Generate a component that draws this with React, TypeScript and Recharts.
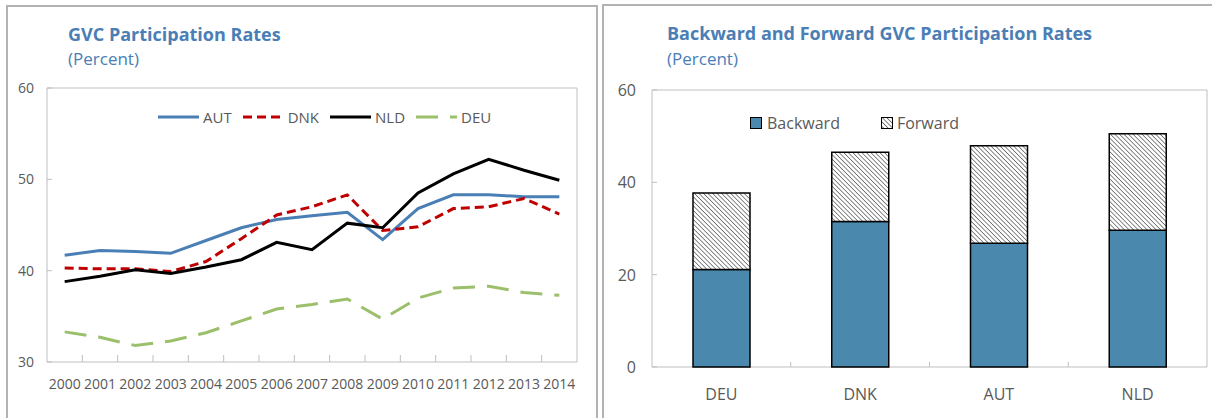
import React from "react"
import { LineChart, Line, BarChart, Bar, XAxis, YAxis, Legend, ReferenceArea } from "recharts"

// GVC participation, percent
const years = ["2000", "2001", "2002", "2003", "2004", "2005", "2006", "2007", "2008", "2009", "2010", "2011", "2012", "2013", "2014"]
const aut = [41.7, 42.2, 42.1, 41.9, 43.3, 44.7, 45.6, 46.0, 46.4, 43.4, 46.8, 48.3, 48.3, 48.1, 48.1]
const dnk = [40.3, 40.2, 40.2, 39.9, 41.0, 43.5, 46.1, 47.0, 48.3, 44.4, 44.8, 46.8, 47.0, 47.9, 46.2]
const nld = [38.8, 39.4, 40.1, 39.7, 40.4, 41.2, 43.1, 42.3, 45.2, 44.7, 48.5, 50.6, 52.2, 51.0, 49.9]
const deu = [33.3, 32.7, 31.8, 32.3, 33.2, 34.5, 35.8, 36.3, 36.9, 34.7, 37.0, 38.1, 38.3, 37.6, 37.3]
const lineTicks = [30, 40, 50, 60]

// backward / forward split, percent
const countries = ["DEU", "DNK", "AUT", "NLD"]
const backward = [21.1, 31.5, 26.8, 29.6]
const forward = [16.6, 15.0, 21.1, 20.9]
const barTicks = [0, 20, 40, 60]

const lineData = years.map((y, i) => ({ year: y, AUT: aut[i], DNK: dnk[i], NLD: nld[i], DEU: deu[i] }))
const barData = countries.map((c, i) => ({ country: c, backward: backward[i], forward: forward[i] }))

const series = [
  { key: "AUT", color: "#4a7fb5", dash: undefined as string | undefined },
  { key: "DNK", color: "#c00000", dash: "9 5" },
  { key: "NLD", color: "#000000", dash: undefined },
  { key: "DEU", color: "#9bbf6b", dash: "22 12" },
]

const FONT = "'Open Sans', 'Noto Sans', sans-serif"
const GRAY = "#595959"
const AXIS = "#bfbfbf"
const TITLE = "#4a7eb5"
const BLUE = "#4b88ae"

// plot-area geometry (used for the inside tick marks)
const L_LEFT = 47, L_RIGHT = 577, L_BOTTOM = 362
const B_LEFT = 52, B_RIGHT = 607, B_BOTTOM = 367

function YearTick(props: any) {
  const { x, payload, index } = props
  const bw = (L_RIGHT - L_LEFT) / years.length
  return (
    <g>
      {index > 0 && <line x1={x - bw / 2} x2={x - bw / 2} y1={L_BOTTOM} y2={L_BOTTOM - 7} stroke={AXIS} />}
      <text x={x} y={L_BOTTOM + 27} textAnchor="middle" fill={GRAY} fontSize={14} fontFamily={FONT}>{payload.value}</text>
    </g>
  )
}

function LineYTick(props: any) {
  const { y, payload } = props
  return (
    <g>
      <line x1={L_LEFT} x2={L_LEFT + 5} y1={y} y2={y} stroke={AXIS} />
      <text x={34} y={y + 5} textAnchor="end" fill={GRAY} fontSize={14} fontFamily={FONT}>{payload.value}</text>
    </g>
  )
}

function CountryTick(props: any) {
  const { x, payload, index } = props
  const bw = (B_RIGHT - B_LEFT) / countries.length
  return (
    <g>
      {index > 0 && <line x1={x - bw / 2} x2={x - bw / 2} y1={B_BOTTOM} y2={B_BOTTOM - 5} stroke={AXIS} />}
      <text x={x} y={B_BOTTOM + 33} textAnchor="middle" fill={GRAY} fontSize={16} fontFamily={FONT}>{payload.value}</text>
    </g>
  )
}

function BarYTick(props: any) {
  const { y, payload } = props
  return (
    <g>
      <line x1={B_LEFT} x2={B_LEFT + 5} y1={y} y2={y} stroke={AXIS} />
      <text x={36} y={y + 6} textAnchor="end" fill={GRAY} fontSize={16} fontFamily={FONT}>{payload.value}</text>
    </g>
  )
}

function LineLegend() {
  return (
    <div style={{ display: "flex", alignItems: "center", fontSize: 15, color: GRAY, fontFamily: FONT, lineHeight: "20px" }}>
      {series.map(s => (
        <div key={s.key} style={{ display: "flex", alignItems: "center", marginRight: 11 }}>
          <svg width={41} height={6}>
            <line x1={0} y1={3} x2={41} y2={3} stroke={s.color} strokeWidth={3} strokeDasharray={s.dash} />
          </svg>
          <span style={{ marginLeft: 4 }}>{s.key}</span>
        </div>
      ))}
    </div>
  )
}

function BarLegend() {
  return (
    <div style={{ display: "flex", alignItems: "center", fontSize: 16, color: GRAY, fontFamily: FONT, lineHeight: "20px" }}>
      <svg width={12} height={12}>
        <rect x={0.5} y={0.5} width={11} height={11} fill={BLUE} stroke="#000" />
      </svg>
      <span style={{ marginLeft: 5, marginRight: 41 }}>Backward</span>
      <svg width={12} height={12}>
        <defs>
          <pattern id="legHatch" patternUnits="userSpaceOnUse" width={3.2} height={3.2} patternTransform="rotate(-45)">
            <rect width={3.2} height={3.2} fill="#fff" />
            <line x1={0} y1={0} x2={0} y2={3.2} stroke="#333" strokeWidth={1.2} />
          </pattern>
        </defs>
        <rect x={0.5} y={0.5} width={11} height={11} fill="url(#legHatch)" stroke="#000" />
      </svg>
      <span style={{ marginLeft: 4 }}>Forward</span>
    </div>
  )
}

const titleStyle: React.CSSProperties = { position: "absolute", fontFamily: FONT, fontWeight: 700, fontSize: 18, lineHeight: "18px", color: TITLE, whiteSpace: "nowrap" }
const subStyle: React.CSSProperties = { position: "absolute", fontFamily: FONT, fontSize: 17, lineHeight: "17px", color: TITLE, whiteSpace: "nowrap" }

export default function App() {
  return (
    <div style={{ position: "absolute", left: 0, top: 0, width: 1212, height: 418, background: "#fff", overflow: "hidden" }}>
      <div style={{ position: "absolute", left: 6, top: 5, width: 592, height: 440, border: "2px solid #b3b3b3", boxSizing: "border-box" }} />
      <div style={{ position: "absolute", left: 602, top: 4, width: 700, height: 440, border: "2px solid #b3b3b3", boxSizing: "border-box" }} />

      <div style={{ ...titleStyle, left: 68, top: 25 }}>GVC Participation Rates</div>
      <div style={{ ...subStyle, left: 68, top: 50 }}>(Percent)</div>
      <div style={{ ...titleStyle, left: 667, top: 24 }}>Backward and Forward GVC Participation Rates</div>
      <div style={{ ...subStyle, left: 667, top: 50 }}>(Percent)</div>

      <div style={{ position: "absolute", left: 0, top: 0 }}>
        <LineChart width={600} height={418} data={lineData} margin={{ top: 88, right: 23, bottom: 0, left: 0 }}>
          <ReferenceArea y1={30} y2={60} fill="none" stroke={AXIS} strokeWidth={1} ifOverflow="visible" />
          <XAxis dataKey="year" scale="band" height={56} interval={0} axisLine={false} tickLine={false} tick={<YearTick />} />
          <YAxis domain={[30, 60]} ticks={lineTicks} width={47} axisLine={false} tickLine={false} tick={<LineYTick />} />
          <Legend
            layout="horizontal"
            align="center"
            verticalAlign="middle"
            content={<LineLegend />}
            wrapperStyle={{ top: 107, left: 158, width: 380 }}
          />
          {series.map(s => (
            <Line
              key={s.key}
              dataKey={s.key}
              stroke={s.color}
              strokeWidth={3}
              strokeDasharray={s.dash}
              dot={false}
              activeDot={false}
              isAnimationActive={false}
            />
          ))}
        </LineChart>
      </div>

      <div style={{ position: "absolute", left: 600, top: 0 }}>
        <BarChart width={612} height={418} data={barData} margin={{ top: 90, right: 5, bottom: 0, left: 0 }}>
          <defs>
            <pattern id="fwdHatch" patternUnits="userSpaceOnUse" width={3.2} height={3.2} patternTransform="rotate(-45)">
              <rect width={3.2} height={3.2} fill="#fff" />
              <line x1={0} y1={0} x2={0} y2={3.2} stroke="#3a3a3a" strokeWidth={1.2} />
            </pattern>
          </defs>
          <ReferenceArea y1={0} y2={60} fill="none" stroke={AXIS} strokeWidth={1} ifOverflow="visible" />
          <XAxis dataKey="country" height={51} interval={0} axisLine={false} tickLine={false} tick={<CountryTick />} />
          <YAxis domain={[0, 60]} ticks={barTicks} width={52} axisLine={false} tickLine={false} tick={<BarYTick />} />
          <Legend
            layout="horizontal"
            align="center"
            verticalAlign="middle"
            content={<BarLegend />}
            wrapperStyle={{ top: 113, left: 150, width: 260 }}
          />
          <Bar dataKey="backward" stackId="gvc" fill={BLUE} stroke="#000" strokeWidth={1.5} barSize={57} isAnimationActive={false} />
          <Bar dataKey="forward" stackId="gvc" fill="url(#fwdHatch)" stroke="#000" strokeWidth={1.5} barSize={57} isAnimationActive={false} />
        </BarChart>
      </div>
    </div>
  )
}
